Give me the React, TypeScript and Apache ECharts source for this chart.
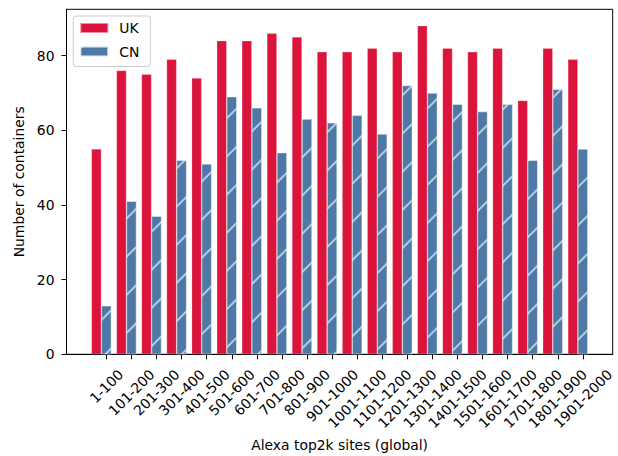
import React, { useEffect, useRef } from "react";
import * as echarts from "echarts";

const categories = [
  "1-100", "101-200", "201-300", "301-400", "401-500", "501-600", "601-700",
  "701-800", "801-900", "901-1000", "1001-1100", "1101-1200", "1201-1300",
  "1301-1400", "1401-1500", "1501-1600", "1601-1700", "1701-1800", "1801-1900",
  "1901-2000",
];
const ukValues = [55, 76, 75, 79, 74, 84, 84, 86, 85, 81, 81, 82, 81, 88, 82, 81, 82, 68, 82, 79];
const cnValues = [13, 41, 37, 52, 51, 69, 66, 54, 63, 62, 64, 59, 72, 70, 67, 65, 67, 52, 71, 55];
const yTicks = [0, 20, 40, 60, 80];
const seriesNames = ["UK", "CN"];

const FONT = "DejaVu Sans";
const FS = 13.9;

export default function App() {
  const ref = useRef<HTMLDivElement>(null);
  useEffect(() => {
    if (!ref.current) return;
    const chart = echarts.init(ref.current, null, { renderer: "svg" });

    // measure label widths for matplotlib-like centred rotated labels
    const cv = document.createElement("canvas");
    const ctx = cv.getContext("2d")!;
    ctx.font = `${FS}px "${FONT}"`;
    const rich: Record<string, any> = {};
    categories.forEach((c, i) => {
      const L = ctx.measureText(c).width;
      const P = L / 2;
      rich["p" + i] = {
        fontSize: FS,
        fontFamily: FONT,
        color: "#000",
        padding: [P, P, 0, 0],
      };
    });

    const tickPos = categories.map((_, i) => i + 0.2);

    chart.setOption({
      animation: false,
      grid: {
        left: 66.5,
        right: 5.3,
        top: 9.3,
        bottom: 101.7,
        show: true,
        borderColor: "#000",
        borderWidth: 1,
        containLabel: false,
        outerBoundsMode: "none",
      },
      legend: {
        data: seriesNames,
        orient: "vertical",
        left: 73.3,
        top: 16,
        itemWidth: 28,
        itemHeight: 10,
        itemGap: 9.5,
        padding: [5, 11, 8, 6],
        borderColor: "#cccccc",
        borderWidth: 1,
        borderRadius: 3,
        backgroundColor: "rgba(255,255,255,0.8)",
        icon: "rect",
        textStyle: {
          fontSize: FS,
          fontFamily: FONT,
          color: "#000",
          lineHeight: 14,
          padding: [0, 0, 0, 6],
        },
      },
      xAxis: {
        type: "value",
        min: -1.39,
        max: 20.39,
        splitLine: { show: false },
        axisLine: { show: true, onZero: false, lineStyle: { color: "#000", width: 1 } },
        axisTick: { show: true, length: 5, lineStyle: { color: "#000" }, customValues: tickPos },
        axisLabel: {
          customValues: tickPos,
          rotate: 45,
          align: "center",
          verticalAlign: "middle",
          margin: 17.6,
          fontSize: FS,
          fontFamily: FONT,
          color: "#000",
          formatter: (v: number) => {
            const i = Math.round(v - 0.2);
            return `{p${i}|${categories[i]}}`;
          },
          rich,
        },
        name: "Alexa top2k sites (global)",
        nameLocation: "middle",
        nameGap: 84,
        nameTextStyle: { fontSize: FS, fontFamily: FONT, color: "#000" },
      },
      yAxis: {
        type: "value",
        min: 0,
        max: 92.4,
        splitLine: { show: false },
        axisLine: { show: true, onZero: false, lineStyle: { color: "#000", width: 1 } },
        axisTick: { show: true, length: 5, lineStyle: { color: "#000" }, customValues: yTicks },
        axisLabel: {
          customValues: yTicks,
          margin: 12,
          fontSize: FS,
          fontFamily: FONT,
          color: "#000",
        },
        name: "Number of containers",
        nameLocation: "middle",
        nameGap: 37,
        nameTextStyle: { fontSize: FS, fontFamily: FONT, color: "#000" },
      },
      series: [
        {
          name: seriesNames[0],
          type: "bar",
          data: ukValues.map((v, i) => [i, v]),
          barWidth: 10,
          barGap: "0%",
          itemStyle: {
            color: "#DC143C",
            borderColor: "rgba(255,255,255,0.5)",
            borderWidth: 0.5,
          },
        },
        {
          name: seriesNames[1],
          type: "bar",
          data: cnValues.map((v, i) => [i, v]),
          barWidth: 10,
          barGap: "0%",
          itemStyle: {
            color: "#4E79A7",
            borderColor: "rgba(255,255,255,0.5)",
            borderWidth: 0.5,
            decal: {
              symbol: "rect",
              symbolSize: 1,
              color: "rgba(255,255,255,0.6)",
              dashArrayX: [1, 0],
              dashArrayY: [1.2, 24.3],
              rotation: -Math.PI / 4,
            },
          },
        },
      ],
    });
    return () => chart.dispose();
  }, []);
  return (
    <div
      ref={ref}
      style={{ position: "fixed", left: 0, top: 0, width: 618, height: 456, background: "#fff" }}
    />
  );
}
